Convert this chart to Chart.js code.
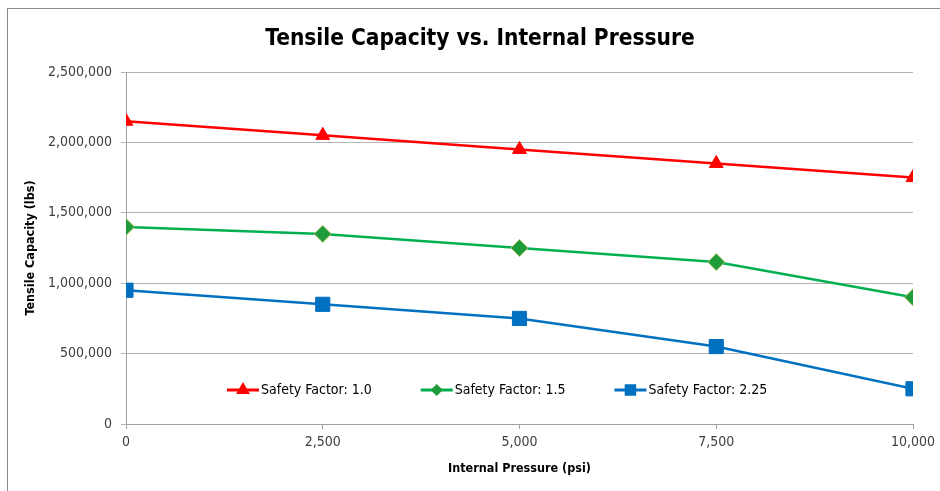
<!DOCTYPE html>
<html>
<head>
<meta charset="utf-8">
<title>Tensile Capacity vs. Internal Pressure</title>
<script src="https://cdn.jsdelivr.net/npm/chart.js@4/dist/chart.umd.min.js"></script>
<style>
  html, body { margin: 0; padding: 0; background: #fff; }
  #wrap { position: relative; width: 940px; height: 491px; overflow: hidden; }
  #frame {
    position: absolute; left: 7px; top: 8px; width: 1000px; height: 600px;
    border: 1px solid #8a8a8a; box-sizing: border-box;
  }
  #chart { position: absolute; left: 0; top: 0; }
</style>
</head>
<body>
<div id="wrap">
  <div id="frame"></div>
  <canvas id="chart" width="940" height="491"></canvas>
</div>
<script>
// ============================================
// DATA
// ============================================

const FONT = '"Liberation Sans Narrow", "DejaVu Sans Condensed", Carlito, sans-serif';

const PRESSURE = [0, 2500, 5000, 7500, 10000];
const SF_1_0 = [2150000, 2050000, 1950000, 1850000, 1750000];
const SF_1_5 = [1400000, 1350000, 1250000, 1150000, 900000];
const SF_2_25 = [950000, 850000, 750000, 550000, 250000];
const SERIES_LABELS = ['Safety Factor: 1.0', 'Safety Factor: 1.5', 'Safety Factor: 2.25'];

// pair each pressure with its capacity value
function toPoints(values) {
  return PRESSURE.map((p, i) => ({ x: p, y: values[i] }));
}

// ============================================
// LEGEND INSIDE THE PLOT (Excel style: line + marker)
// ============================================

const insideLegend = {
  id: 'insideLegend',
  afterDatasetsDraw(chart) {
    const ctx = chart.ctx;
    const area = chart.chartArea;
    const y = area.bottom - 34;
    let x = area.left + 101;

    ctx.save();
    ctx.font = '14px ' + FONT;
    ctx.textBaseline = 'middle';
    ctx.textAlign = 'left';

    chart.data.datasets.forEach((ds) => {
      ctx.strokeStyle = ds.borderColor;
      ctx.lineWidth = 3;
      ctx.beginPath();
      ctx.moveTo(x, y);
      ctx.lineTo(x + 32, y);
      ctx.stroke();

      ctx.fillStyle = ds.pointBackgroundColor;
      ctx.strokeStyle = ds.pointBackgroundColor;
      Chart.helpers.drawPoint(ctx, {
        pointStyle: ds.pointStyle,
        radius: ds.legendRadius,
        borderWidth: 1,
        rotation: 0,
      }, x + 16, y);

      ctx.fillStyle = '#000';
      ctx.fillText(ds.label, x + 34, y);
      x += 34 + ctx.measureText(ds.label).width + 49;
    });
    ctx.restore();
  },
};

// ============================================
// CHART
// ============================================

const tickFont = { family: FONT, size: 14 };
const titleFont = { family: FONT, size: 12.5, weight: 'bold' };

new Chart(document.getElementById('chart').getContext('2d'), {
  type: 'line',
  data: {
    datasets: [
      {
        label: SERIES_LABELS[0],
        data: toPoints(SF_1_0),
        borderColor: '#ff0000',
        pointBackgroundColor: '#ff0000',
        pointBorderColor: '#ff0000',
        pointStyle: 'triangle',
        pointRadius: 8,
        legendRadius: 5,
      },
      {
        label: SERIES_LABELS[1],
        data: toPoints(SF_1_5),
        borderColor: '#00b050',
        pointBackgroundColor: '#1f9c3a',
        pointBorderColor: '#a8c064',
        pointStyle: 'rectRot',
        pointRadius: 8.5,
        legendRadius: 4,
      },
      {
        label: SERIES_LABELS[2],
        data: toPoints(SF_2_25),
        borderColor: '#0070c0',
        pointBackgroundColor: '#0070c0',
        pointBorderColor: '#0070c0',
        pointStyle: 'rect',
        pointRadius: 10,
        legendRadius: 6,
      },
    ],
  },
  options: {
    responsive: false,
    animation: false,
    layout: { padding: { left: 20, right: 0, top: 0, bottom: 0 } },
    elements: {
      line: { borderWidth: 2.5, tension: 0, fill: false },
      point: { borderWidth: 1, hoverRadius: 8 },
    },
    plugins: {
      legend: { display: false },
      tooltip: { enabled: false },
      title: {
        display: true,
        text: 'Tensile Capacity vs. Internal Pressure',
        color: '#000',
        font: { family: FONT, size: 22.5, weight: 'bold', lineHeight: 1.2 },
        padding: { top: 26, bottom: 19 },
      },
    },
    scales: {
      x: {
        type: 'linear',
        min: 0,
        max: 10000,
        ticks: { stepSize: 2500, color: '#404040', font: tickFont, padding: 5, maxRotation: 0 },
        grid: { drawOnChartArea: false, tickLength: 5, color: '#a0a0a0' },
        border: { color: '#a0a0a0' },
        title: {
          display: true,
          text: 'Internal Pressure (psi)',
          color: '#000',
          font: titleFont,
          padding: { top: 4, bottom: 15 },
        },
        afterFit(axis) {
          axis.height = 67;
          axis.paddingRight = 27;
        },
      },
      y: {
        min: 0,
        max: 2500000,
        ticks: { stepSize: 500000, color: '#404040', font: tickFont, padding: 9 },
        grid: { color: '#b4b4b4', tickLength: 5 },
        border: { color: '#a0a0a0' },
        title: {
          display: true,
          text: 'Tensile Capacity (lbs)',
          color: '#000',
          font: titleFont,
          padding: { top: 3, bottom: 0 },
        },
        afterFit(axis) {
          axis.width = 106;
        },
      },
    },
  },
  plugins: [insideLegend],
});
</script>
</body>
</html>
